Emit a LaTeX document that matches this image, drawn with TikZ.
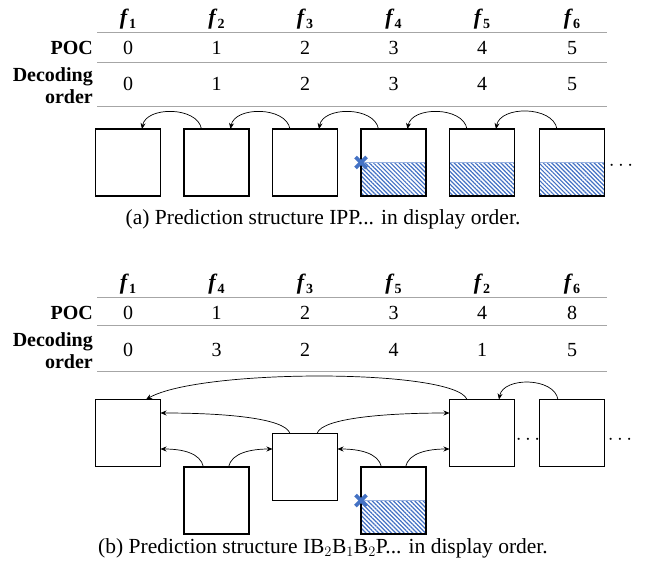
\documentclass[tikz,border=0pt]{standalone}
\usepackage{fontspec}
\setmainfont{Liberation Serif}
\usetikzlibrary{arrows.meta,patterns.meta}
\definecolor{hatchblue}{HTML}{4472C4}
\definecolor{rulegray}{HTML}{A6A6A6}
\newcommand\fhead[1]{\textbf{\textit{f}}\raisebox{-4pt}{\fontsize{14}{14}\selectfont\bfseries\upshape #1}}
\begin{document}
\begin{tikzpicture}[x=1pt,y=1pt,
  frame/.style={draw, line width=1.3pt, minimum width=65pt, minimum height=67pt, inner sep=0pt, outer sep=0pt},
  hatched/.style={path picture={
      \fill[pattern={Lines[angle=-45,distance=3pt,line width=1.2pt]}, pattern color=hatchblue]
        (path picture bounding box.west) rectangle (path picture bounding box.south east);
      \draw[hatchblue!55, line width=0.9pt] (path picture bounding box.west) -- (path picture bounding box.east);}},
  conn/.style={-{Stealth[length=6pt,width=5pt]}, line width=0.7pt},
  rulel/.style={draw=rulegray, line width=0.8pt},
  hdr/.style={font=\fontsize{22}{22}\selectfont, inner sep=0pt},
  cell/.style={font=\fontsize{20}{20}\selectfont, inner sep=0pt},
  lbl/.style={font=\fontsize{20}{22}\selectfont\bfseries, align=right, anchor=east, inner sep=0pt},
  capt/.style={font=\fontsize{21.5}{24}\selectfont, inner sep=0pt},
  dotsn/.style={font=\fontsize{20}{20}\selectfont, inner sep=0pt},
  xmark/.style={draw=hatchblue, line width=3.6pt}]
\useasboundingbox (0,0) rectangle (646,-570);

% ---------- (a) table ----------
\node[hdr] (ha1) at (128,-19) {\fhead{1}};
\node[hdr] (ha2) at (216.5,-19) {\fhead{2}};
\node[hdr] (ha3) at (305,-19) {\fhead{3}};
\node[hdr] (ha4) at (393.5,-19) {\fhead{4}};
\node[hdr] (ha5) at (482,-19) {\fhead{5}};
\node[hdr] (ha6) at (572,-19) {\fhead{6}};
\draw[rulel] (97,-32) -- (607,-32);
\node[lbl] (pa) at (93,-48) {POC};
\foreach \x/\v [count=\i] in {128/0,216.5/1,305/2,393.5/3,482/4,572/5}
  \node[cell] (pa\i) at (\x,-48) {\v};
\draw[rulel] (97,-62) -- (607,-62);
\node[lbl] (da) at (93,-86) {Decoding\\order};
\foreach \x/\v [count=\i] in {128/0,216.5/1,305/2,393.5/3,482/4,572/5}
  \node[cell] (da\i) at (\x,-84) {\v};
\draw[rulel] (97,-106) -- (607,-106);

% ---------- (a) frames ----------
\node[frame] (a1) at (128,-162.5) {};
\node[frame] (a2) at (216.5,-162.5) {};
\node[frame] (a3) at (305,-162.5) {};
\node[frame,hatched] (a4) at (393.5,-162.5) {};
\node[frame,hatched] (a5) at (482,-162.5) {};
\node[frame,hatched] (a6) at (572,-162.5) {};
\node[dotsn] (dta) at (621,-166) {$\cdots$};
\draw[xmark] ([shift={(-5.5,-5.5)}]a4.west) -- ([shift={(5.5,5.5)}]a4.west);
\draw[xmark] ([shift={(-5.5,5.5)}]a4.west) -- ([shift={(5.5,-5.5)}]a4.west);
\foreach \s/\t in {a2/a1,a3/a2,a4/a3,a5/a4,a6/a5}
  \draw[conn] ([xshift=-15pt]\s.north) to[out=100,in=80] ([xshift=14pt]\t.north);
\node[capt] (capa) at (323,-219) {(a) Prediction structure IPP... in display order.};

% ---------- (b) table ----------
\node[hdr] (hb1) at (128,-284) {\fhead{1}};
\node[hdr] (hb2) at (216.5,-284) {\fhead{4}};
\node[hdr] (hb3) at (305,-284) {\fhead{3}};
\node[hdr] (hb4) at (393.5,-284) {\fhead{5}};
\node[hdr] (hb5) at (482,-284) {\fhead{2}};
\node[hdr] (hb6) at (572,-284) {\fhead{6}};
\draw[rulel] (97,-297) -- (607,-297);
\node[lbl] (pb) at (93,-313) {POC};
\foreach \x/\v [count=\i] in {128/0,216.5/1,305/2,393.5/3,482/4,572/8}
  \node[cell] (pb\i) at (\x,-313) {\v};
\draw[rulel] (97,-325) -- (607,-325);
\node[lbl] (db) at (93,-351) {Decoding\\order};
\foreach \x/\v [count=\i] in {128/0,216.5/3,305/2,393.5/4,482/1,572/5}
  \node[cell] (db\i) at (\x,-350) {\v};
\draw[rulel] (97,-371) -- (607,-371);

% ---------- (b) frames ----------
\node[frame] (b1) at (128,-433) {};
\node[frame] (b2) at (216.5,-500.5) {};
\node[frame] (b3) at (305,-467) {};
\node[frame,hatched] (b4) at (393.5,-500.5) {};
\node[frame] (b5) at (482,-433) {};
\node[frame] (b6) at (572,-433) {};
\node[dotsn] (dtb1) at (528,-440) {$\cdots$};
\node[dotsn] (dtb2) at (620,-440) {$\cdots$};
\draw[xmark] ([shift={(-5.5,-5.5)}]b4.west) -- ([shift={(5.5,5.5)}]b4.west);
\draw[xmark] ([shift={(-5.5,5.5)}]b4.west) -- ([shift={(5.5,-5.5)}]b4.west);

\draw[conn] ([xshift=-15pt]b5.north) .. controls +(-12,31) and +(54,31) .. ([xshift=18pt]b1.north);
\draw[conn] ([xshift=-15pt]b3.north) .. controls +(-5,16) and +(60,0) .. ([yshift=20pt]b1.east);
\draw[conn] ([xshift=12pt]b3.north) .. controls +(5,16) and +(-60,0) .. ([yshift=20pt]b5.west);
\draw[conn] ([xshift=-13pt]b2.north) .. controls +(-3,14) and +(22,0) .. ([yshift=-16pt]b1.east);
\draw[conn] ([xshift=12pt]b2.north) .. controls +(3,14) and +(-22,0) .. ([yshift=18pt]b3.west);
\draw[conn] ([xshift=-12pt]b4.north) .. controls +(-3,14) and +(22,0) .. ([yshift=18pt]b3.east);
\draw[conn] ([xshift=12pt]b4.north) .. controls +(3,14) and +(-22,0) .. ([yshift=-16pt]b5.west);
\draw[conn] ([xshift=-14pt]b6.north) to[out=100,in=80] ([xshift=17pt]b5.north);

\node[capt] (capb) at (323,-548) {(b) Prediction structure IB$_2$B$_1$B$_2$P... in display order.};
\end{tikzpicture}
\end{document}
